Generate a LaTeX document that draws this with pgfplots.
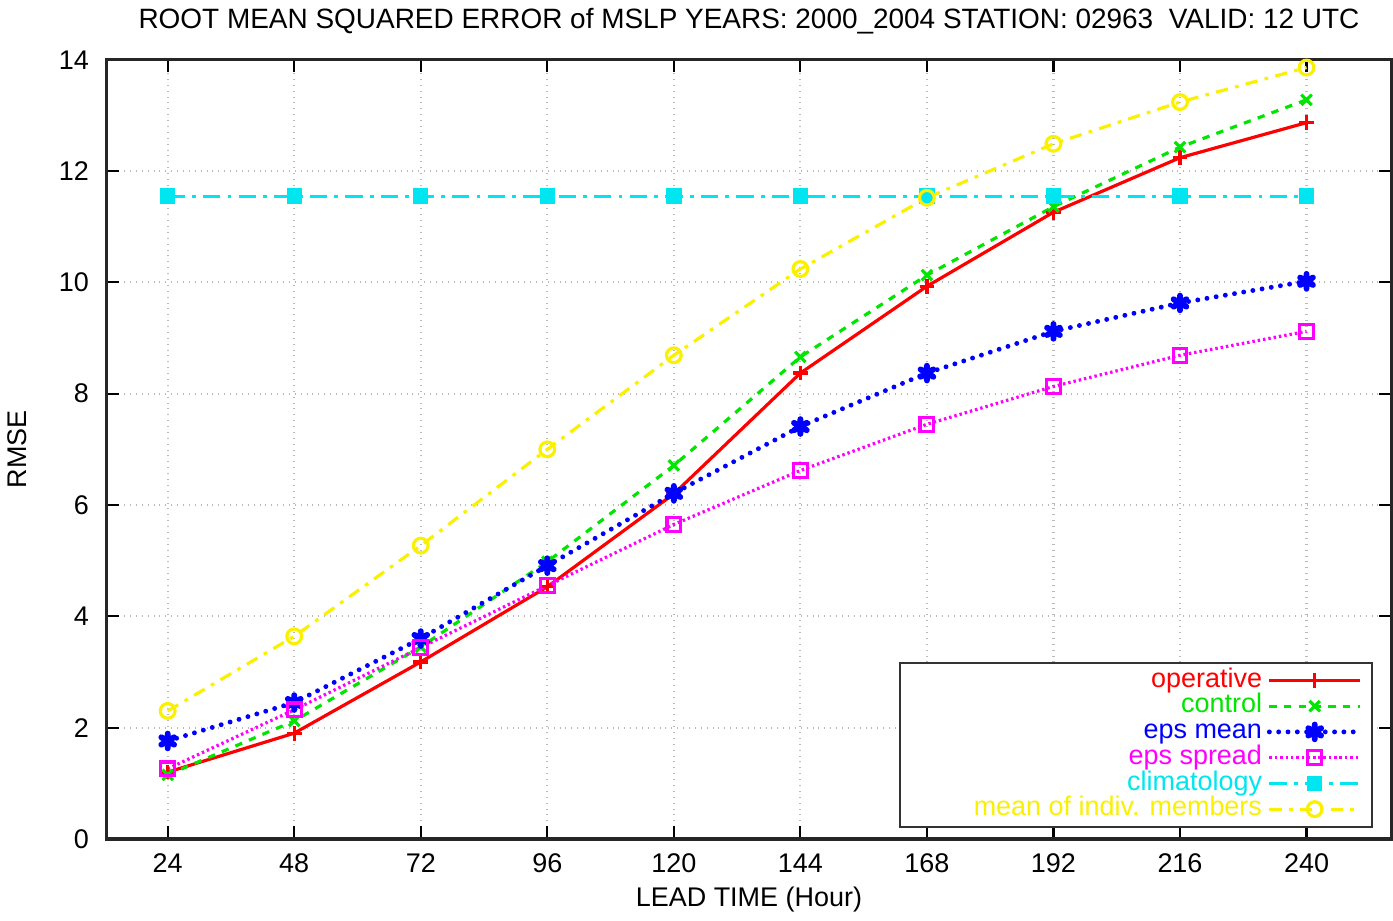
\documentclass[border=0pt]{standalone}
\usepackage{pgfplots}
\pgfplotsset{compat=1.18}
\usepackage{fontspec}
\setmainfont{Liberation Sans}
\usetikzlibrary{plotmarks}

\definecolor{gpred}{RGB}{255,0,0}
\definecolor{gpgreen}{RGB}{0,230,0}
\definecolor{gpblue}{RGB}{0,0,255}
\definecolor{gpmag}{RGB}{255,0,255}
\definecolor{gpcyan}{RGB}{0,230,240}
\definecolor{gpyellow}{RGB}{250,240,0}

\begin{document}
\begin{tikzpicture}
\begin{axis}[
  width=18.42cm, height=11.17cm,
  scale only axis,
  font=\fontsize{11}{13}\selectfont,
  /pgf/number format/assume math mode=true,
  xmin=12.4, xmax=256.1,
  ymin=0, ymax=14,
  xtick={24,48,...,240},
  ytick={0,2,...,14},
  tick align=inside,
  major tick length=0.18cm,
  tick style={black, line width=0.9pt},
  axis line style={line width=1.3pt, black!85},
  grid=major,
  major grid style={gray!55, dotted, line width=0.9pt},
  title={\fontsize{11.4}{13}\selectfont ROOT MEAN SQUARED ERROR of MSLP YEARS: 2000\_2004 STATION: 02963\ \ VALID: 12 UTC},
  title style={yshift=1pt},
  xlabel={LEAD TIME (Hour)},
  ylabel={RMSE},
  yticklabel style={xshift=-3.7pt},
  xticklabel style={yshift=-2.5pt},
  xlabel style={yshift=1pt},
  ylabel style={yshift=6pt},
  legend cell align=right,
  legend plot pos=right,
  legend style={at={(0.986,0.014)}, anchor=south east, draw=black!80, line width=0.9pt,
    row sep=0pt, inner xsep=4pt, inner ysep=2pt,
    nodes={inner ysep=0pt, text height=8pt, text depth=2.5pt}},
  legend image code/.code={\draw[mark repeat=2,mark phase=2,#1] plot coordinates {(0cm,0cm)(0.65cm,0cm)(1.3cm,0cm)};},
  every axis plot/.append style={line width=1.3pt},
]
\addplot[gpred, solid, mark=+, mark size=3pt, mark options={solid}] coordinates {
(24,1.20)(48,1.90)(72,3.18)(96,4.53)(120,6.20)(144,8.37)(168,9.93)(192,11.26)(216,12.24)(240,12.87)};
\addlegendentry{\textcolor{gpred}{operative}}
\addplot[gpgreen, dashed, mark=x, mark size=3pt, mark options={solid}] coordinates {
(24,1.15)(48,2.12)(72,3.45)(96,4.98)(120,6.71)(144,8.66)(168,10.13)(192,11.36)(216,12.43)(240,13.28)};
\addlegendentry{\textcolor{gpgreen}{control}}
\addplot[gpblue, dash pattern=on 0pt off 3.8pt, line cap=round, line width=2pt, mark=asterisk, mark size=3pt, mark options={solid, line width=2.4pt}] coordinates {
(24,1.76)(48,2.45)(72,3.60)(96,4.91)(120,6.21)(144,7.41)(168,8.37)(192,9.12)(216,9.63)(240,10.02)};
\addlegendentry{\textcolor{gpblue}{eps mean}}
\addplot[gpmag, dash pattern=on 1pt off 1.2pt, mark=square, mark size=2.8pt, mark options={solid}] coordinates {
(24,1.26)(48,2.32)(72,3.44)(96,4.55)(120,5.65)(144,6.62)(168,7.45)(192,8.13)(216,8.69)(240,9.12)};
\addlegendentry{\textcolor{gpmag}{eps spread}}
\addplot[gpcyan, dash pattern=on 7pt off 3pt on 1.5pt off 3pt, mark=square*, mark size=2.5pt, mark options={solid}] coordinates {
(24,11.55)(48,11.55)(72,11.55)(96,11.55)(120,11.55)(144,11.55)(168,11.55)(192,11.55)(216,11.55)(240,11.55)};
\addlegendentry{\textcolor{gpcyan}{climatology}}
\addplot[gpyellow, dash pattern=on 5pt off 3pt on 1.5pt off 3pt, mark=o, mark size=3pt, mark options={solid}] coordinates {
(24,2.30)(48,3.64)(72,5.27)(96,7.00)(120,8.69)(144,10.24)(168,11.52)(192,12.49)(216,13.24)(240,13.86)};
\addlegendentry{\hspace*{0.85cm}\textcolor{gpyellow}{mean of indiv. members}}
\end{axis}
\end{tikzpicture}
\end{document}
